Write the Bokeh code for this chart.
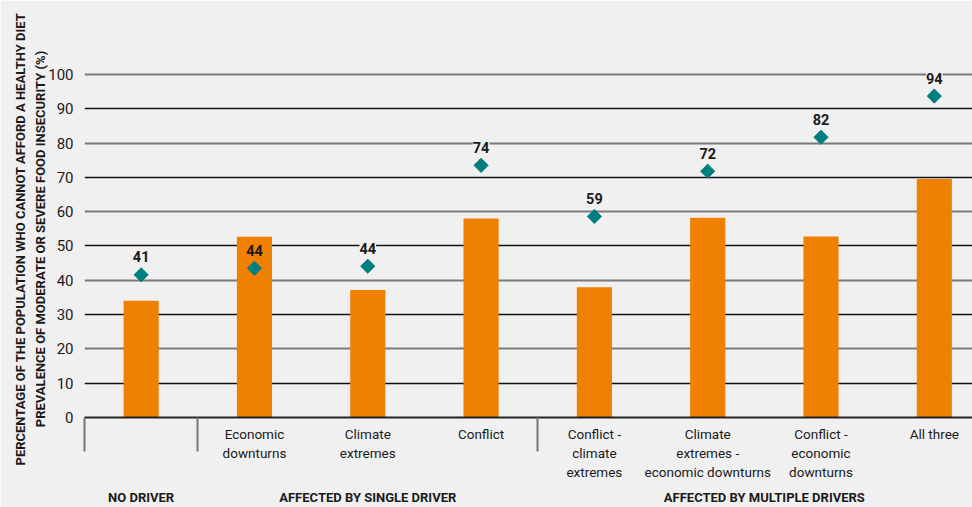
import math
from bokeh.plotting import figure
from bokeh.models import Range1d, FixedTicker, Grid, ColumnDataSource, LabelSet, LinearAxis
from bokeh.core.properties import value
from bokeh.embed import file_html
from bokeh.resources import INLINE

# ---- data ----
categories = ["No driver", "Economic downturns", "Climate extremes", "Conflict",
              "Conflict - climate extremes", "Climate extremes - economic downturns",
              "Conflict - economic downturns", "All three"]
category_labels = ["", "Economic\ndownturns", "Climate\nextremes", "Conflict",
                   "Conflict -\nclimate\nextremes", "Climate\nextremes -\neconomic downturns",
                   "Conflict -\neconomic\ndownturns", "All three"]
healthy_diet = [34.0, 52.7, 37.2, 58.0, 38.0, 58.2, 52.8, 69.5]
food_insecurity = [41.6, 43.5, 44.1, 73.5, 58.6, 71.8, 81.7, 93.7]
food_insecurity_labels = ["41", "44", "44", "74", "59", "72", "82", "94"]
groups = ["NO DRIVER", "AFFECTED BY SINGLE DRIVER", "AFFECTED BY MULTIPLE DRIVERS"]
group_sizes = [1, 3, 4]
y_ticks = list(range(0, 101, 10))
y_title_1 = "PERCENTAGE OF THE POPULATION WHO CANNOT AFFORD A HEALTHY DIET"
y_title_2 = "PREVALENCE OF MODERATE OR SEVERE FOOD INSECURITY (%)"

FONT = "Roboto"
BG = "#f0f0f0"
TXT = "#1a1a1a"
ORANGE = "#f08000"
TEAL = "#007f80"

xs = list(range(len(categories)))

# group boundaries and centres
bounds = [-0.5]
centers = []
start = 0
for g in group_sizes:
    centers.append(start + (g - 1) / 2)
    start += g
    bounds.append(start - 0.5)
bounds = bounds[:-1]

p = figure(width=972, height=507, output_backend="svg", toolbar_location=None,
           x_range=Range1d(-0.5, 7.337), y_range=Range1d(0, 104.07),
           x_axis_location=None,
           min_border_left=84, min_border_right=0, min_border_top=60, min_border_bottom=89)
p.background_fill_color = BG
p.border_fill_color = BG
p.outline_line_color = None
p.xgrid.visible = False

# y axis
ya = p.yaxis[0]
ya.ticker = FixedTicker(ticks=y_ticks)
ya.axis_line_color = None
ya.major_tick_line_color = None
ya.minor_tick_line_color = None
ya.major_tick_out = 0
ya.major_label_standoff = 11
ya.major_label_text_font = FONT
ya.major_label_text_font_size = "15px"
ya.major_label_text_color = TXT
ya.axis_label = y_title_1 + "\n" + y_title_2
ya.axis_label_text_font = FONT
ya.axis_label_text_font_size = "13px"
ya.axis_label_text_font_style = "bold"
ya.axis_label_text_color = TXT
ya.axis_label_text_line_height = 1.35
ya.axis_label_standoff = -3

# category axis
xa = LinearAxis(ticker=FixedTicker(ticks=xs, minor_ticks=bounds),
                major_label_overrides={i: lab for i, lab in zip(xs, category_labels)})
xa.axis_line_color = "#222222"
xa.axis_line_width = 2
xa.major_tick_line_color = None
xa.major_tick_out = 0
xa.major_tick_in = 0
xa.minor_tick_line_color = "#777777"
xa.minor_tick_line_width = 2
xa.minor_tick_out = 34
xa.minor_tick_in = 0
xa.major_label_standoff = -26
xa.major_label_text_font = FONT
xa.major_label_text_font_size = "13.5px"
xa.major_label_text_color = TXT
xa.major_label_text_line_height = 1.2
p.add_layout(xa, "below")

# group axis
ga = LinearAxis(ticker=FixedTicker(ticks=centers),
                major_label_overrides={c: g for c, g in zip(centers, groups)})
ga.axis_line_color = None
ga.major_tick_line_color = None
ga.minor_tick_line_color = None
ga.major_tick_out = 0
ga.major_tick_in = 0
ga.major_label_standoff = 7
ga.major_label_text_font = FONT
ga.major_label_text_font_size = "13px"
ga.major_label_text_font_style = "bold"
ga.major_label_text_color = TXT
p.add_layout(ga, "below")

# grids (alternating grey / black)
p.ygrid.ticker = FixedTicker(ticks=[t for t in y_ticks if t % 20 == 0 and t > 0])
p.ygrid.grid_line_color = "#7a7a7a"
p.ygrid.grid_line_width = 2.2
p.add_layout(Grid(dimension=1, ticker=FixedTicker(ticks=[t for t in y_ticks if t % 20 == 10]),
                  grid_line_color="#111111", grid_line_width=1.6))

# bars
p.vbar(x=xs, top=healthy_diet, bottom=0, width=0.31, fill_color=ORANGE, line_color=None)

# diamonds + value labels (label box takes the bar colour when it sits on the bar)
label_bg = [ORANGE if fi + 8 < hd else BG for fi, hd in zip(food_insecurity, healthy_diet)]
src = ColumnDataSource(dict(x=xs, y=food_insecurity, t=food_insecurity_labels, bg=label_bg))
p.scatter(x="x", y="y", source=src, marker="square", angle=math.pi / 4, size=10,
          fill_color=TEAL, line_color=TEAL)
p.add_layout(LabelSet(x="x", y="y", text="t", source=src, y_offset=18,
                      text_align="center", text_baseline="middle",
                      text_font=value(FONT), text_font_size="14.5px", text_font_style="bold",
                      text_color=TXT, background_fill_color="bg"))

open("out.html", "w").write(file_html(p, INLINE))
